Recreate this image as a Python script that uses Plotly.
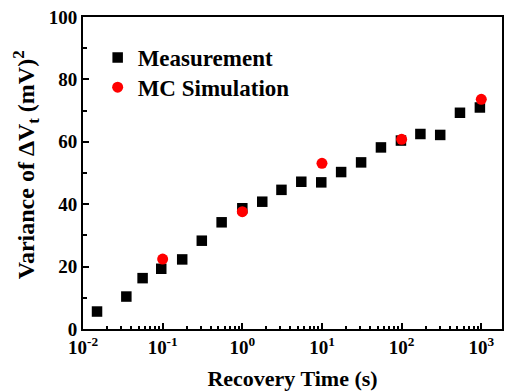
import plotly.graph_objects as go

meas_t = [0.015, 0.035, 0.056, 0.096, 0.176, 0.31, 0.55, 1.0, 1.78, 3.1, 5.5, 9.8, 17.4, 31, 55, 98, 172, 305, 540, 960]
meas_v = [5.6, 10.4, 16.3, 19.3, 22.3, 28.3, 34.2, 38.7, 40.8, 44.6, 47.2, 47.0, 50.3, 53.4, 58.2, 60.4, 62.5, 62.2, 69.3, 71.0]
sim_t = [0.1, 1, 10, 100, 1000]
sim_v = [22.4, 37.6, 53.1, 60.8, 73.6]

x_tickvals = [0.01, 0.1, 1, 10, 100, 1000]
x_ticktext = ["10<sup>-2</sup>", "10<sup>-1</sup>", "10<sup>0</sup>", "10<sup>1</sup>", "10<sup>2</sup>", "10<sup>3</sup>"]
y_tickvals = [0, 20, 40, 60, 80, 100]

FONT = "Liberation Serif, Times New Roman, serif"

fig = go.Figure()
fig.add_trace(go.Scatter(x=meas_t, y=meas_v, mode="markers", name="Measurement", showlegend=True,
                         marker=dict(symbol="square", size=10.5, color="black"), legend="legend"))
fig.add_trace(go.Scatter(x=sim_t, y=sim_v, mode="markers", name="MC Simulation", showlegend=True,
                         marker=dict(symbol="circle", size=11, color="#ff0000"), legend="legend2"))

axis_common = dict(showline=True, linecolor="black", linewidth=2, mirror=True,
                   ticks="inside", tickcolor="black", tickwidth=2, ticklen=6,
                   showgrid=False, zeroline=False, automargin=False,
                   tickfont=dict(family=FONT, size=19, color="black", weight="bold"))

fig.update_xaxes(type="log", range=[-2.0, 3.26], tickvals=x_tickvals, ticktext=x_ticktext,
                 minor=dict(ticks="inside", ticklen=3, tickcolor="black", tickwidth=1.5, dtick="D1", showgrid=False),
                 title=dict(text="Recovery Time (s)", font=dict(family=FONT, size=22, color="black", weight="bold")),
                 **axis_common)
fig.update_yaxes(range=[0, 100], tickvals=y_tickvals,
                 minor=dict(ticks="inside", ticklen=4, tickcolor="black", tickwidth=1.5, dtick=10, showgrid=False),
                 **axis_common)

fig.add_annotation(text="Variance of ΔV<sub>t</sub> (mV)<sup>2</sup>", textangle=-90,
                   xref="paper", yref="paper", x=-0.136, y=0.525, xanchor="center", yanchor="middle",
                   showarrow=False, font=dict(family=FONT, size=24, color="black", weight="bold"))

legfont = dict(family=FONT, size=23, color="black", weight="bold")
fig.update_layout(
    width=505, height=391,
    margin=dict(l=83, r=3, t=17, b=62),
    paper_bgcolor="white", plot_bgcolor="white",
    font=dict(family=FONT, color="black"),
    showlegend=True,
    legend=dict(x=0.035, y=0.87, xanchor="left", yanchor="middle", font=legfont, bgcolor="rgba(0,0,0,0)"),
    legend2=dict(x=0.035, y=0.775, xanchor="left", yanchor="middle", font=legfont, bgcolor="rgba(0,0,0,0)"),
)

fig.write_html("out.html", config={"displayModeBar": False},
               post_script="document.body.style.margin='0px';document.body.style.padding='0px';")
